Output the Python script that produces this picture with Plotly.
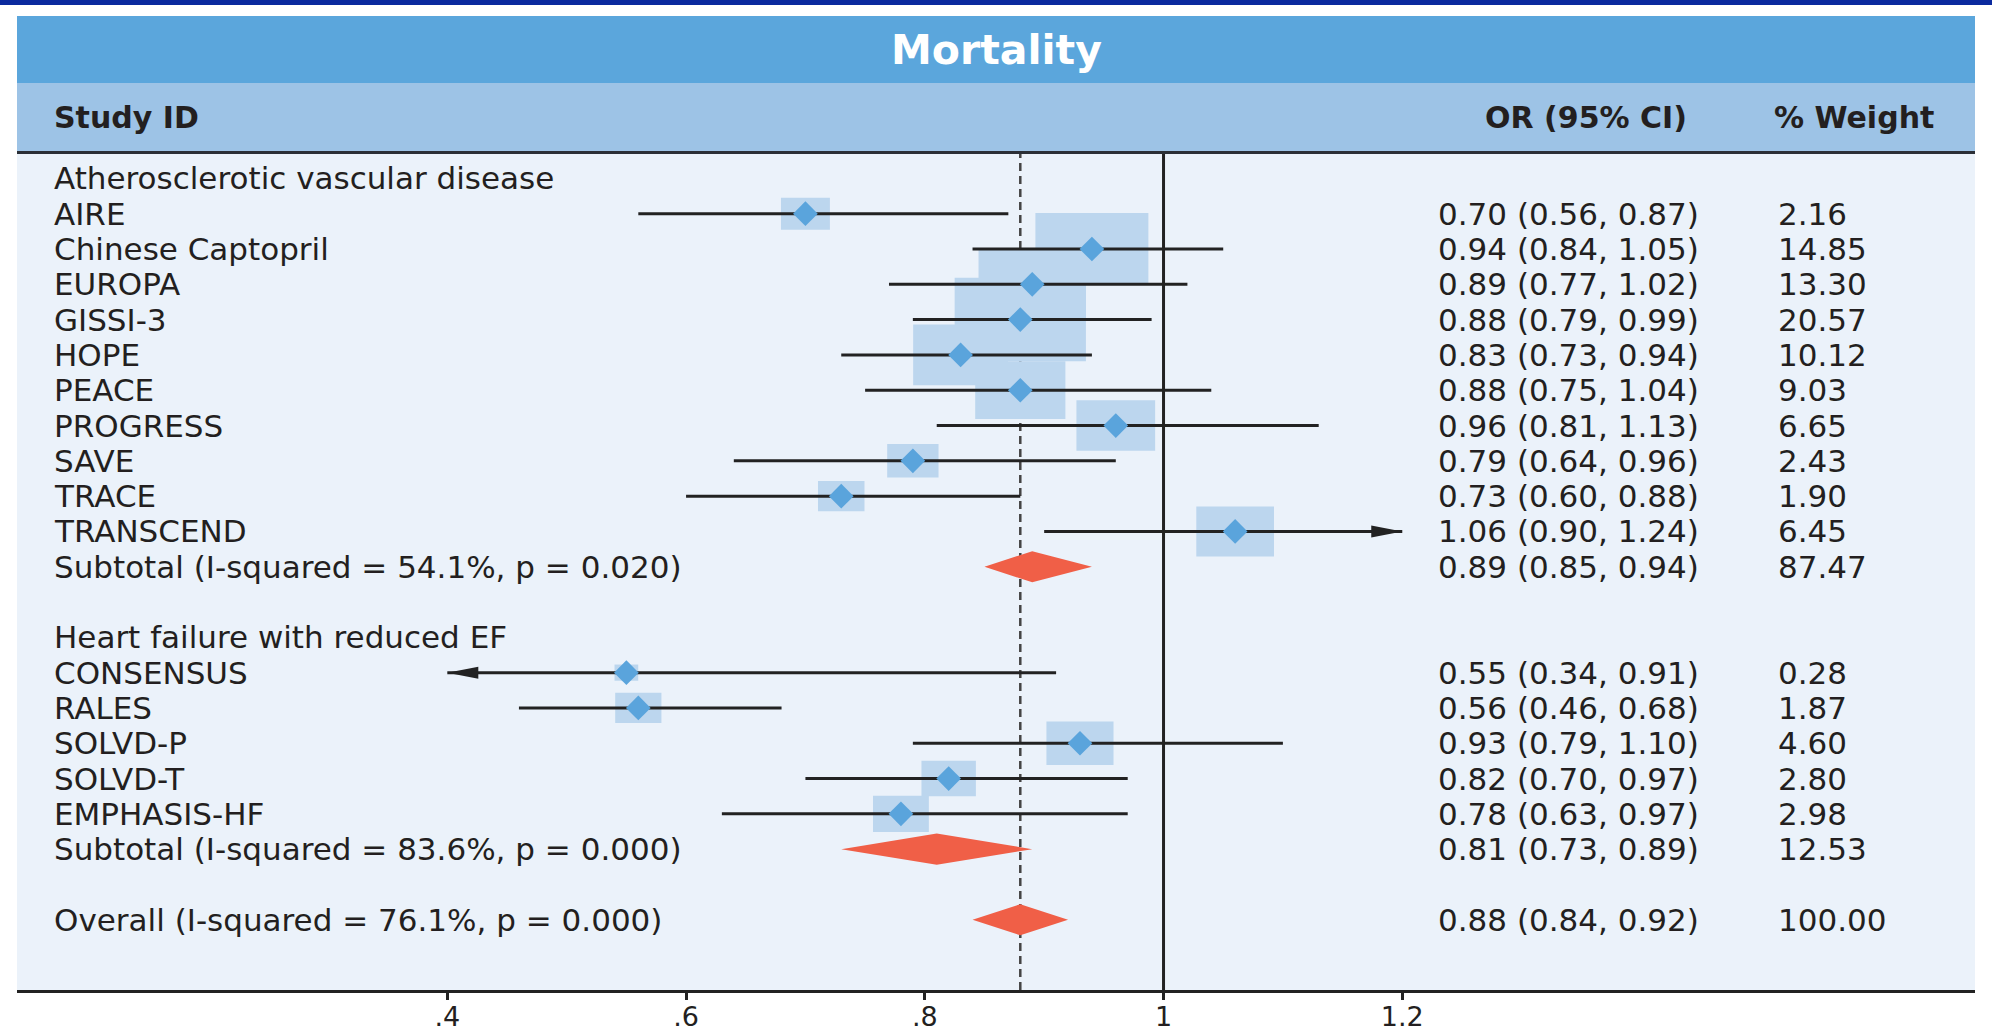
import plotly.graph_objects as go

# ---------------- data ----------------
title_text = "Mortality"
col_study = "Study ID"
col_or = "OR (95% CI)"
col_weight = "% Weight"

group1_label = "Atherosclerotic vascular disease"
g1_names = ["AIRE", "Chinese Captopril", "EUROPA", "GISSI-3", "HOPE", "PEACE",
            "PROGRESS", "SAVE", "TRACE", "TRANSCEND"]
g1_or = [0.70, 0.94, 0.89, 0.88, 0.83, 0.88, 0.96, 0.79, 0.73, 1.06]
g1_lo = [0.56, 0.84, 0.77, 0.79, 0.73, 0.75, 0.81, 0.64, 0.60, 0.90]
g1_hi = [0.87, 1.05, 1.02, 0.99, 0.94, 1.04, 1.13, 0.96, 0.88, 1.24]
g1_w = [2.16, 14.85, 13.30, 20.57, 10.12, 9.03, 6.65, 2.43, 1.90, 6.45]
g1_sub = [0.89, 0.85, 0.94, 87.47]
g1_sub_label = "Subtotal (I-squared = 54.1%, p = 0.020)"

group2_label = "Heart failure with reduced EF"
g2_names = ["CONSENSUS", "RALES", "SOLVD-P", "SOLVD-T", "EMPHASIS-HF"]
g2_or = [0.55, 0.56, 0.93, 0.82, 0.78]
g2_lo = [0.34, 0.46, 0.79, 0.70, 0.63]
g2_hi = [0.91, 0.68, 1.10, 0.97, 0.97]
g2_w = [0.28, 1.87, 4.60, 2.80, 2.98]
g2_sub = [0.81, 0.73, 0.89, 12.53]
g2_sub_label = "Subtotal (I-squared = 83.6%, p = 0.000)"

overall = [0.88, 0.84, 0.92, 100.00]
overall_label = "Overall (I-squared = 76.1%, p = 0.000)"

tick_vals = [0.4, 0.6, 0.8, 1.0, 1.2]
tick_text = [".4", ".6", ".8", "1", "1.2"]

# ---------------- style / layout constants ----------------
W, H = 1992, 1032
ML, MR, MT, MB = 17, 17, 153, 42
XR = [0.0395, 1.6798]
YR = [22.99, -0.72]
FONT = "DejaVu Sans"
TXT = "#231f20"
LINE = "#222222"
BOX = "#bcd6ee"
MARK = "#5aa4dc"
RED = "#f05f47"
BG = "#ebf2fa"
TITLE_BG = "#5ba6dc"
HEAD_BG = "#9dc3e6"
TOPBAR = "#0b2a9e"
ROW_FS = 31
HEAD_FS = 30
TITLE_FS = 41
TICK_FS = 27

PW = W - ML - MR
PH = H - MT - MB


def px_to_paper_x(px):
    return (px - ML) / PW


def px_to_paper_y(py):
    return (H - MB - py) / PH


clip_lo, clip_hi = min(tick_vals), max(tick_vals)

# ---------------- build row structure ----------------
rows = []
r = 1
for glabel, names, ors, los, his, ws, sub, sublabel in [
    (group1_label, g1_names, g1_or, g1_lo, g1_hi, g1_w, g1_sub, g1_sub_label),
    (group2_label, g2_names, g2_or, g2_lo, g2_hi, g2_w, g2_sub, g2_sub_label),
]:
    rows.append(dict(kind="head", label=glabel, y=r - 1.0))
    for i, n in enumerate(names):
        rows.append(dict(kind="study", label=n, y=r + i, est=ors[i], lo=los[i], hi=his[i], w=ws[i]))
    rows.append(dict(kind="pool", label=sublabel, y=r + len(names),
                     est=sub[0], lo=sub[1], hi=sub[2], w=sub[3]))
    r = r + len(names) + 3
rows.append(dict(kind="pool", label=overall_label, y=r - 1,
                 est=overall[0], lo=overall[1], hi=overall[2], w=overall[3]))

fig = go.Figure()
shapes = []
annotations = []

# reference lines (below boxes)
shapes.append(dict(type="line", xref="x", yref="paper", x0=1, x1=1, y0=0, y1=1,
                   line=dict(color=LINE, width=3), layer="below"))
shapes.append(dict(type="line", xref="x", yref="paper", x0=overall[0], x1=overall[0], y0=0, y1=1,
                   line=dict(color="#444444", width=2.5, dash="8px,5px"), layer="below"))

ci_x, ci_y = [], []
mk_x, mk_y = [], []
dx, dy = [], []
for row in rows:
    if row["kind"] == "study":
        s = row["w"] ** 0.5
        bw = 26.85 * s + 9.5
        bh = 16.8 * s + 7.3
        shapes.append(dict(type="rect", xref="x", yref="y", xsizemode="pixel", ysizemode="pixel",
                           xanchor=row["est"], yanchor=row["y"], x0=-bw / 2, x1=bw / 2,
                           y0=-bh / 2, y1=bh / 2, fillcolor=BOX, line=dict(width=0), layer="below"))
        lo = max(row["lo"], clip_lo)
        hi = min(row["hi"], clip_hi)
        ci_x += [lo, hi, None]
        ci_y += [row["y"], row["y"], None]
        mk_x.append(row["est"])
        mk_y.append(row["y"])
        if row["hi"] > clip_hi:
            shapes.append(dict(type="path", xref="x", yref="y", xsizemode="pixel", ysizemode="pixel",
                               xanchor=clip_hi, yanchor=row["y"], path="M 0,0 L -31,6 L -31,-6 Z",
                               fillcolor=LINE, line=dict(width=0), layer="above"))
        if row["lo"] < clip_lo:
            shapes.append(dict(type="path", xref="x", yref="y", xsizemode="pixel", ysizemode="pixel",
                               xanchor=clip_lo, yanchor=row["y"], path="M 0,0 L 31,6 L 31,-6 Z",
                               fillcolor=LINE, line=dict(width=0), layer="above"))
    elif row["kind"] == "pool":
        h = 0.44
        dx += [row["lo"], row["est"], row["hi"], row["est"], row["lo"], None]
        dy += [row["y"], row["y"] - h, row["y"], row["y"] + h, row["y"], None]

fig.add_trace(go.Scatter(x=ci_x, y=ci_y, mode="lines", line=dict(color=LINE, width=3),
                         hoverinfo="skip", showlegend=False))
fig.add_trace(go.Scatter(x=mk_x, y=mk_y, mode="markers",
                         marker=dict(symbol="diamond", size=19, color=MARK, line=dict(width=0)),
                         hoverinfo="skip", showlegend=False))
fig.add_trace(go.Scatter(x=dx, y=dy, mode="lines", fill="toself", fillcolor=RED,
                         line=dict(width=0, color=RED), hoverinfo="skip", showlegend=False))

# row texts
lab_x = px_to_paper_x(52)
ci_tx = px_to_paper_x(1436)
w_tx = px_to_paper_x(1776)
for row in rows:
    annotations.append(dict(text=row["label"], xref="paper", yref="y", x=lab_x, y=row["y"],
                            xanchor="left", yanchor="middle", showarrow=False,
                            font=dict(family=FONT, size=ROW_FS, color=TXT)))
    if row["kind"] != "head":
        annotations.append(dict(text=f"{row['est']:.2f} ({row['lo']:.2f}, {row['hi']:.2f})",
                                xref="paper", yref="y", x=ci_tx, y=row["y"],
                                xanchor="left", yanchor="middle", showarrow=False,
                                font=dict(family=FONT, size=ROW_FS, color=TXT)))
        annotations.append(dict(text=f"{row['w']:.2f}", xref="paper", yref="y", x=w_tx, y=row["y"],
                                xanchor="left", yanchor="middle", showarrow=False,
                                font=dict(family=FONT, size=ROW_FS, color=TXT)))

# header bands
x_full0 = px_to_paper_x(0)
x_full1 = px_to_paper_x(W)
shapes.append(dict(type="rect", xref="paper", yref="paper", x0=x_full0, x1=x_full1,
                   y0=px_to_paper_y(5), y1=px_to_paper_y(0), fillcolor=TOPBAR, line=dict(width=0)))
shapes.append(dict(type="rect", xref="paper", yref="paper", x0=0, x1=1,
                   y0=px_to_paper_y(83), y1=px_to_paper_y(16), fillcolor=TITLE_BG, line=dict(width=0)))
shapes.append(dict(type="rect", xref="paper", yref="paper", x0=0, x1=1,
                   y0=px_to_paper_y(152), y1=px_to_paper_y(83), fillcolor=HEAD_BG, line=dict(width=0)))
shapes.append(dict(type="line", xref="paper", yref="paper", x0=0, x1=1,
                   y0=px_to_paper_y(152.5), y1=px_to_paper_y(152.5),
                   line=dict(color="#2b2f36", width=3)))

annotations.append(dict(text=f"<b>{title_text}</b>", xref="paper", yref="paper",
                        x=0.5, y=px_to_paper_y(50), xanchor="center", yanchor="middle",
                        showarrow=False, font=dict(family=FONT, size=TITLE_FS, color="white")))
hy = px_to_paper_y(117)
annotations.append(dict(text=f"<b>{col_study}</b>", xref="paper", yref="paper", x=lab_x, y=hy,
                        xanchor="left", yanchor="middle", showarrow=False,
                        font=dict(family=FONT, size=HEAD_FS, color=TXT)))
annotations.append(dict(text=f"<b>{col_or}</b>", xref="paper", yref="paper", x=px_to_paper_x(1483), y=hy,
                        xanchor="left", yanchor="middle", showarrow=False,
                        font=dict(family=FONT, size=HEAD_FS, color=TXT)))
annotations.append(dict(text=f"<b>{col_weight}</b>", xref="paper", yref="paper", x=px_to_paper_x(1772), y=hy,
                        xanchor="left", yanchor="middle", showarrow=False,
                        font=dict(family=FONT, size=HEAD_FS, color=TXT)))

fig.update_layout(
    width=W, height=H,
    margin=dict(l=ML, r=MR, t=MT, b=MB, pad=0, autoexpand=False),
    paper_bgcolor="white", plot_bgcolor=BG,
    showlegend=False, hovermode=False,
    shapes=shapes, annotations=annotations,
    xaxis=dict(range=XR, showgrid=False, zeroline=False, showline=True, linewidth=3,
               linecolor=LINE, ticks="outside", ticklen=7, tickwidth=3, tickcolor=LINE,
               tickvals=tick_vals, ticktext=tick_text, ticklabelstandoff=-6, automargin=False,
               tickfont=dict(family=FONT, size=TICK_FS, color=TXT), fixedrange=True),
    yaxis=dict(range=YR, visible=False, showgrid=False, zeroline=False, fixedrange=True,
               automargin=False),
)

fig.write_html("out.html", config={"displayModeBar": False, "staticPlot": True},
               post_script="document.body.style.margin='0';")
